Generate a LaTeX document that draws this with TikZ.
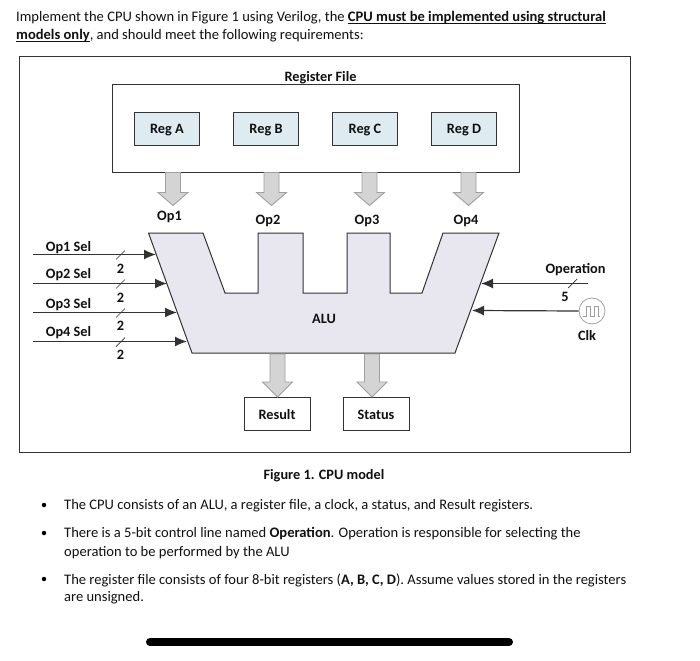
\documentclass[tikz,border=0pt]{standalone}
\usepackage{fontspec}
\setmainfont{Carlito}
\usetikzlibrary{arrows.meta,calc}
\definecolor{lineC}{HTML}{333333}
\definecolor{regC}{HTML}{DEEBF0}
\definecolor{aluC}{HTML}{E8E6EF}
\definecolor{blkF}{HTML}{D4D4D4}
\definecolor{blkD}{HTML}{A0A0A0}
\definecolor{txt}{HTML}{111111}
\newsavebox{\ulbox}
\newcommand{\ulbold}[1]{\sbox{\ulbox}{\textbf{#1}}\rlap{\rule[-1.8pt]{\wd\ulbox}{1pt}}\usebox{\ulbox}}
\tikzset{
 x=1pt,y=-1pt,
 frame/.style={draw=lineC,line width=1pt,fill=white},
 regbox/.style={draw=lineC,line width=1pt,fill=regC,minimum width=65.5pt,minimum height=33pt,inner sep=0pt,text height=11pt,text depth=1pt,font=\fontsize{14.3}{16}\selectfont\bfseries,text=txt},
 outbox/.style={draw=lineC,line width=1pt,fill=white,minimum width=66pt,minimum height=33pt,inner sep=0pt,text height=11pt,text depth=0pt,font=\fontsize{14.3}{16}\selectfont\bfseries,text=txt},
 lab/.style={inner sep=0pt,font=\fontsize{14.3}{16}\selectfont\bfseries,text=txt},
 para/.style={inner sep=0pt,anchor=base west,font=\fontsize{14.55}{16}\selectfont,text=txt},
 dot/.style={circle,fill=black,inner sep=0pt,minimum size=4.5pt},
 sig/.style={draw=lineC,line width=1.2pt,-{Latex[length=12pt,width=10pt]}},
 slash/.style={draw=lineC,line width=.7pt},
 blk/.style={draw=blkD,line width=.9pt,fill=blkF},
}
\newcommand{\blockdown}[3]{% #1 start coordinate, #2 shoulder drop, #3 tip drop
 \draw[blk] (#1) ++(-7.5,0) -- ++(0,#2) -- ++(-7.5,0) -- ++(15,#3) -- ++(15,-#3) -- ++(-7.5,0) -- ++(0,-#2) -- cycle;}
\begin{document}
\begin{tikzpicture}
\useasboundingbox (0,0) rectangle (700,660);
\fill[white] (0,0) rectangle (700,660);
% intro
\node[para] (t1) at (16,22) {Implement the CPU shown in Figure 1 using Verilog, the \ulbold{CPU must be implemented using structural}};
\node[para] (t2) at (16,40) {\ulbold{models only}, and should meet the following requirements:};
% outer
\node[frame,minimum width=611pt,minimum height=395pt,inner sep=0pt] (outer) at (324.5,254.5) {};
\node[lab] (rftitle) at (320.5,77.5) {Register File};
\node[frame,minimum width=406.5pt,minimum height=87.5pt,inner sep=0pt] (rf) at (315.75,128.5) {};
\node[regbox] (ra) at (167,129) {Reg A};
\node[regbox] (rb) at (266,129) {Reg B};
\node[regbox] (rc) at (365,129) {Reg C};
\node[regbox] (rd) at (464,129) {Reg D};
% block arrows from register file
\coordinate (b1) at (173,172.5);
\coordinate (b2) at (271.5,172.5);
\coordinate (b3) at (369.5,172.5);
\coordinate (b4) at (468.5,172.5);
\blockdown{b1}{20}{13}
\blockdown{b2}{20}{13}
\blockdown{b3}{20}{13}
\blockdown{b4}{20}{13}
\node[lab] (o1) at (169.5,216.5) {Op1};
\node[lab] (o2) at (268,220.5) {Op2};
\node[lab] (o3) at (367,220.5) {Op3};
\node[lab] (o4) at (466,220.5) {Op4};
% ALU
\draw[draw=lineC,line width=1pt,fill=aluC] (148.5,233) -- (203,233) -- (225,293) -- (258,293) -- (258,233) -- (303,233) -- (303,293) -- (347,293) -- (347,233) -- (390,233) -- (390,293) -- (422,293) -- (443,233) -- (499,233) -- (455,353) -- (192,353) -- cycle;
\node[lab] (alu) at (324,318.5) {ALU};
% ports
\coordinate (s1) at (33,254.5);
\coordinate (s2) at (33,283.5);
\coordinate (s3) at (33,312.5);
\coordinate (s4) at (33,341.5);
\coordinate (p1) at (156,254.5);
\coordinate (p2) at (167,283.5);
\coordinate (p3) at (177,312.5);
\coordinate (p4) at (187,341.5);
\draw[sig] (s1) -- (p1);
\draw[sig] (s2) -- (p2);
\draw[sig] (s3) -- (p3);
\draw[sig] (s4) -- (p4);
\foreach \y in {254.5,283.5,312.5,341.5}{\draw[slash] (116,\y+5) -- (125,\y-4);}
\node[lab] (ls1) at (68.5,247.5) {Op1 Sel};
\node[lab] (ls2) at (68.5,275) {Op2 Sel};
\node[lab] (ls3) at (68.5,305) {Op3 Sel};
\node[lab] (ls4) at (68.5,332.5) {Op4 Sel};
\node[lab] (n1) at (120.5,269) {2};
\node[lab] (n2) at (120.5,297.5) {2};
\node[lab] (n3) at (120.5,326) {2};
\node[lab] (n4) at (120.5,354.5) {2};
% right side
\node[circle,draw=blkD,line width=.8pt,fill=white,minimum size=26pt,inner sep=0pt] (clk) at (592,311) {};
\draw[draw=blkD,line width=.8pt] (583,316) -- ++(3,0) -- ++(0,-10) -- ++(4,0) -- ++(0,10) -- ++(4,0) -- ++(0,-10) -- ++(4,0) -- ++(0,10) -- ++(2,0);
\coordinate (opstart) at (588,283.5);
\coordinate (opend) at (481,283.5);
\coordinate (clkend) at (472,310.5);
\draw[sig] (opstart) -- (opend);
\draw[sig] (clk.west) -- (clkend);
\draw[slash] (568,288) -- (577,279);
\node[lab] (oplab) at (575.5,269.5) {Operation};
\node[lab] (five) at (565,296.5) {5};
\node[lab] (clklab) at (587,335.5) {Clk};
% outputs
\node[outbox] (res) at (277,413.5) {Result};
\node[outbox] (sta) at (376,413.5) {Status};
\coordinate (b5) at (277.5,354);
\coordinate (b6) at (372,354);
\blockdown{b5}{28}{15}
\blockdown{b6}{28}{15}
% caption and bullets
\node[lab] (cap) at (324,475.5) {Figure 1. CPU model};
\node[dot] (d1) at (44,505) {};
\node[para] (l1) at (64,509.5) {The CPU consists of an ALU, a register file, a clock, a status, and Result registers.};
\node[dot] (d2) at (44,533) {};
\node[para] (l2) at (64,537.5) {There is a 5-bit control line named \textbf{Operation}. Operation is responsible for selecting the};
\node[para] (l3) at (64,556) {operation to be performed by the ALU};
\node[dot] (d3) at (44,579) {};
\node[para] (l4) at (64,584) {The register file consists of four 8-bit registers (\textbf{A, B, C, D}). Assume values stored in the registers};
\node[para] (l5) at (64,601) {are unsigned.};
% scroll bar
\coordinate (barL) at (150,642);
\coordinate (barR) at (509,642);
\draw[black,line width=8pt,line cap=round] (barL) -- (barR);
\end{tikzpicture}
\end{document}
